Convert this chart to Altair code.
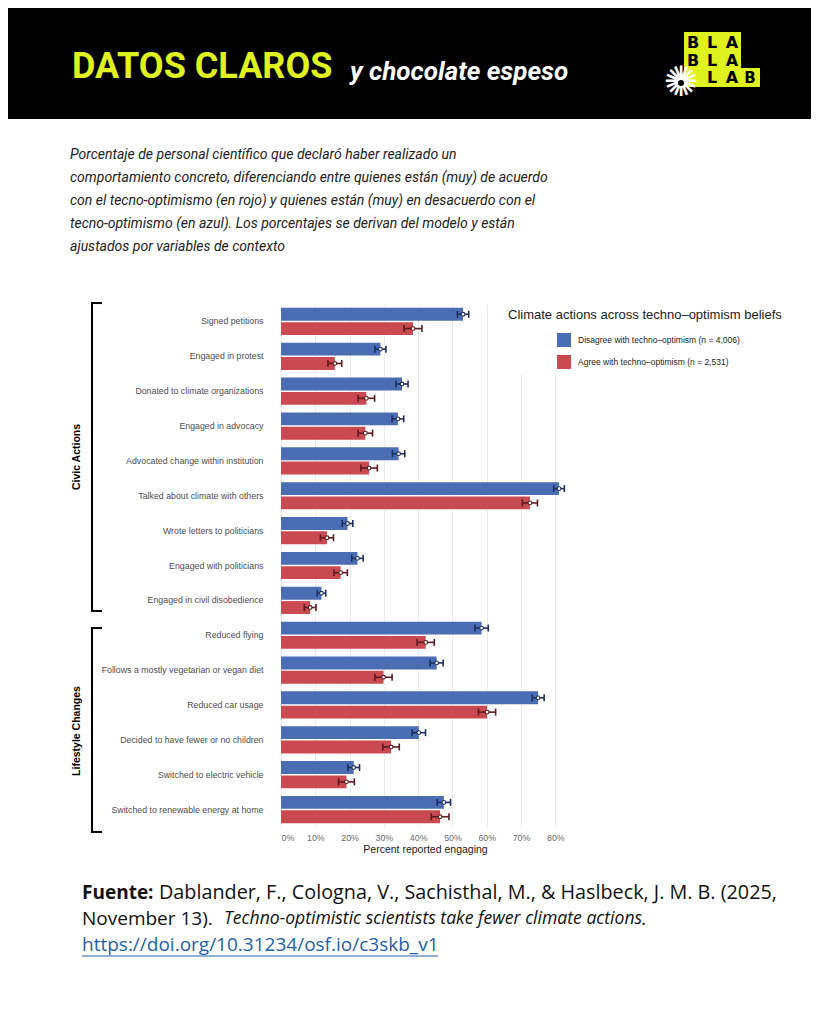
import altair as alt
import pandas as pd

# ---------------- data ----------------
items = [
    "Signed petitions",
    "Engaged in protest",
    "Donated to climate organizations",
    "Engaged in advocacy",
    "Advocated change within institution",
    "Talked about climate with others",
    "Wrote letters to politicians",
    "Engaged with politicians",
    "Engaged in civil disobedience",
    "Reduced flying",
    "Follows a mostly vegetarian or vegan diet",
    "Reduced car usage",
    "Decided to have fewer or no children",
    "Switched to electric vehicle",
    "Switched to renewable energy at home",
]
groups = ["Civic Actions"] * 9 + ["Lifestyle Changes"] * 6
disagree_pct = [53.1, 29.0, 35.3, 34.1, 34.3, 81.1, 19.4, 22.3, 11.8,
                58.5, 45.4, 75.0, 40.2, 21.2, 47.5]
agree_pct = [38.5, 15.7, 24.9, 24.6, 25.7, 72.6, 13.4, 17.4, 8.5,
             42.2, 29.9, 60.1, 32.1, 19.1, 46.4]
disagree_err = [1.65, 1.6, 1.75, 1.7, 1.8, 1.55, 1.55, 1.65, 1.25,
                1.95, 1.9, 1.75, 1.95, 1.7, 1.95]
agree_err = [2.6, 2.0, 2.4, 2.1, 2.4, 2.2, 1.9, 1.95, 1.7,
             2.5, 2.5, 2.5, 2.4, 2.3, 2.6]
series = ["Disagree with techno\u2013optimism (n = 4,006)",
          "Agree with techno\u2013optimism (n = 2,531)"]
tick_values = [0, 10, 20, 30, 40, 50, 60, 70, 80]

group_names = ["Civic Actions", "Lifestyle Changes"]
group_first = ["Signed petitions", "Reduced flying"]
group_last = ["Engaged in civil disobedience", "Switched to renewable energy at home"]

title_text = "Climate actions across techno\u2013optimism beliefs"
subtitle_lines = [
    "Porcentaje de personal científico que declaró haber realizado un",
    "comportamiento concreto, diferenciando entre quienes están (muy) de acuerdo",
    "con el tecno-optimismo (en rojo) y quienes están (muy) en desacuerdo con el",
    "tecno-optimismo (en azul). Los porcentajes se derivan del modelo y están",
    "ajustados por variables de contexto",
]

# ---------------- styling ----------------
BLUE = "#4a6db3"
RED = "#c94a50"
DARK = {series[0]: "#1d2f5e", series[1]: "#5c1b1e"}
YELLOW = "#dff21f"
FONT = "Liberation Sans"

rows = []
for i, it in enumerate(items):
    rows.append(dict(item=it, group=groups[i], series=series[0], pct=disagree_pct[i],
                     lo=disagree_pct[i] - disagree_err[i], hi=disagree_pct[i] + disagree_err[i]))
    rows.append(dict(item=it, group=groups[i], series=series[1], pct=agree_pct[i],
                     lo=agree_pct[i] - agree_err[i], hi=agree_pct[i] + agree_err[i]))
df = pd.DataFrame(rows)
brk = pd.DataFrame(dict(group=group_names, first=group_first, last=group_last))
dummy = pd.DataFrame({"k": [0]})

yscale = alt.Scale(domain=items, paddingInner=0.22, paddingOuter=0.11)
xscale = alt.Scale(domain=[0, 84], nice=False, zero=True)
yoff = alt.Scale(domain=series, paddingInner=0.1)

XAXIS = alt.Axis(values=tick_values, labelExpr="datum.value + '%'",
                 title="Percent reported engaging", grid=True, gridColor="#ebebeb",
                 gridWidth=1, ticks=False, domain=False, labelFont=FONT,
                 labelFontSize=8.8, labelColor="#6b6b6b", labelPadding=6,
                 titleFont=FONT, titleFontSize=10.5, titleColor="#1a1a1a",
                 titleFontWeight="normal", titlePadding=3)
YAXIS = alt.Axis(title=None, ticks=False, domain=False, labelPadding=18,
                 labelFont=FONT, labelFontSize=8.8, labelColor="#4d4d4d",
                 labelLimit=300, grid=False)
XT = "Percent reported engaging"

bars = alt.Chart(df).mark_bar().encode(
    x=alt.X("pct:Q", scale=xscale, axis=XAXIS, title=XT),
    y=alt.Y("item:N", scale=yscale, axis=YAXIS, title=None),
    yOffset=alt.YOffset("series:N", scale=yoff),
    color=alt.Color("series:N", scale=alt.Scale(domain=series, range=[BLUE, RED]),
                    legend=alt.Legend(title=None, orient="none", legendX=276, legendY=29,
                                      symbolType="square", symbolSize=196,
                                      symbolStrokeWidth=0, symbolOpacity=1,
                                      labelFont=FONT, labelFontSize=8.5, labelColor="#222",
                                      labelLimit=400, rowPadding=8, labelOffset=7)),
)

layers = [bars]
for s in series:
    base = alt.Chart(df).transform_filter(alt.datum.series == s)
    yenc = alt.Y("item:N", scale=yscale, axis=YAXIS, title=None)
    yo = alt.YOffset("series:N", scale=yoff)
    layers.append(base.mark_rule(color=DARK[s], strokeWidth=1.6).encode(
        x=alt.X("lo:Q", scale=xscale, axis=XAXIS, title=XT), x2="hi:Q", y=yenc, yOffset=yo))
    layers.append(base.transform_fold(["lo", "hi"], as_=["end", "val"]).mark_tick(
        color=DARK[s], thickness=1.6, size=7, opacity=1).encode(
        x=alt.X("val:Q", scale=xscale, axis=XAXIS, title=XT), y=yenc, yOffset=yo))
    layers.append(base.mark_point(shape="circle", filled=True, fill="white", stroke=DARK[s],
                                  strokeWidth=1.1, size=14, opacity=1).encode(
        x=alt.X("pct:Q", scale=xscale, axis=XAXIS, title=XT), y=yenc, yOffset=yo))

# white box hiding gridlines behind legend
layers.append(alt.Chart(dummy).mark_rect(color="white").encode(
    x=alt.value(219), x2=alt.value(300), y=alt.value(-6), y2=alt.value(70)))


# brackets
def bracket(gname, top_off, bot_off):
    b = alt.Chart(brk).transform_filter(alt.datum.group == gname)
    out = []
    out.append(b.mark_rule(color="black", strokeWidth=2, yOffset=top_off, y2Offset=bot_off).encode(
        x=alt.value(-189),
        y=alt.Y("first:N", scale=yscale, axis=YAXIS, title=None, bandPosition=0),
        y2=alt.Y2("last", bandPosition=1)))
    out.append(b.mark_rule(color="black", strokeWidth=2, yOffset=top_off).encode(
        x=alt.value(-190), x2=alt.value(-179),
        y=alt.Y("first:N", scale=yscale, axis=YAXIS, title=None, bandPosition=0)))
    out.append(b.mark_rule(color="black", strokeWidth=2, yOffset=bot_off).encode(
        x=alt.value(-190), x2=alt.value(-179),
        y=alt.Y("last:N", scale=yscale, axis=YAXIS, title=None, bandPosition=1)))
    return out


layers += bracket("Civic Actions", -4.8, -3)
layers += bracket("Lifestyle Changes", 6.4, 8.8)


def txt(text, x, y, size, color="#000", font=FONT, weight="normal", style="normal",
        align="left", angle=0):
    return alt.Chart(dummy).mark_text(
        text=text, fontSize=size, color=color, font=font, fontWeight=weight,
        fontStyle=style, align=align, baseline="middle", angle=angle).encode(
        x=alt.value(x), y=alt.value(y))


layers.append(txt("Civic Actions", -204, 153, 10.5, weight="bold", align="center", angle=270))
layers.append(txt("Lifestyle Changes", -204, 427, 10.5, weight="bold", align="center", angle=270))
layers.append(txt(title_text, 227, 11, 13, color="#1a1a1a"))

# header
layers.append(alt.Chart(dummy).mark_rect(color="black").encode(
    x=alt.value(-300), x2=alt.value(560), y=alt.value(-320), y2=alt.value(-185)))
layers.append(txt("DATOS CLAROS", -209, -237, 36, color=YELLOW, font="Roboto", weight="bold"))
layers.append(txt("y chocolate espeso", 69, -232, 26, color="white", font="Roboto",
                  weight="bold", style="italic"))
# logo
layers.append(alt.Chart(dummy).mark_rect(color=YELLOW).encode(
    x=alt.value(403), x2=alt.value(460), y=alt.value(-272), y2=alt.value(-217)))
layers.append(alt.Chart(dummy).mark_rect(color=YELLOW).encode(
    x=alt.value(459), x2=alt.value(479), y=alt.value(-236), y2=alt.value(-217)))
for row_y, letters in zip([-261, -243, -226], ["BLA", "BLA", " LA"]):
    for lx, ch in zip([412, 431, 451], letters):
        if ch.strip():
            layers.append(txt(ch, lx, row_y, 16, font="DejaVu Sans", weight="bold",
                              align="center"))
layers.append(txt("B", 469, -226, 15, font="DejaVu Sans", weight="bold", align="center"))
layers.append(txt("\u273a", 400, -221, 42, color="white", font="DejaVu Sans", align="center"))
layers.append(alt.Chart(dummy).mark_point(shape="circle", filled=True, color="black",
                                          size=36, opacity=1).encode(
    x=alt.value(400), y=alt.value(-221)))

# subtitle
for i, line in enumerate(subtitle_lines):
    layers.append(txt(line, -211, -149 + 23 * i, 14, color="#222", font="Roboto",
                      style="italic"))

# footer
FOOT = "Open Sans"
layers.append(txt("Fuente:", -199, 589, 19, color="#111", font=FOOT, weight="bold"))
layers.append(txt("Dablander, F., Cologna, V., Sachisthal, M., & Haslbeck, J. M. B. (2025,",
                  -122, 589, 19.8, color="#111", font=FOOT))
layers.append(txt("November 13).", -199, 615, 19, color="#111", font=FOOT))
layers.append(txt("Techno-optimistic scientists take fewer climate actions", -57, 615, 17.6,
                  color="#111", font=FOOT, style="italic"))
layers.append(txt(".", 360, 615, 19, color="#111", font=FOOT))
layers.append(txt("https://doi.org/10.31234/osf.io/c3skb_v1", -199, 641, 19,
                  color="#1f5fa8", font=FOOT))
layers.append(alt.Chart(dummy).mark_rule(color="#1f5fa8", strokeWidth=1).encode(
    x=alt.value(-199), x2=alt.value(157), y=alt.value(652)))

chart = alt.layer(*layers).properties(
    width=288, height=523,
    padding={"left": 273, "top": 296, "right": 242, "bottom": 189},
    autosize=alt.AutoSizeParams(type="none"),
    background="white",
).configure_view(stroke=None)

chart.save("out.html", embed_options={"renderer": "svg", "actions": False})
